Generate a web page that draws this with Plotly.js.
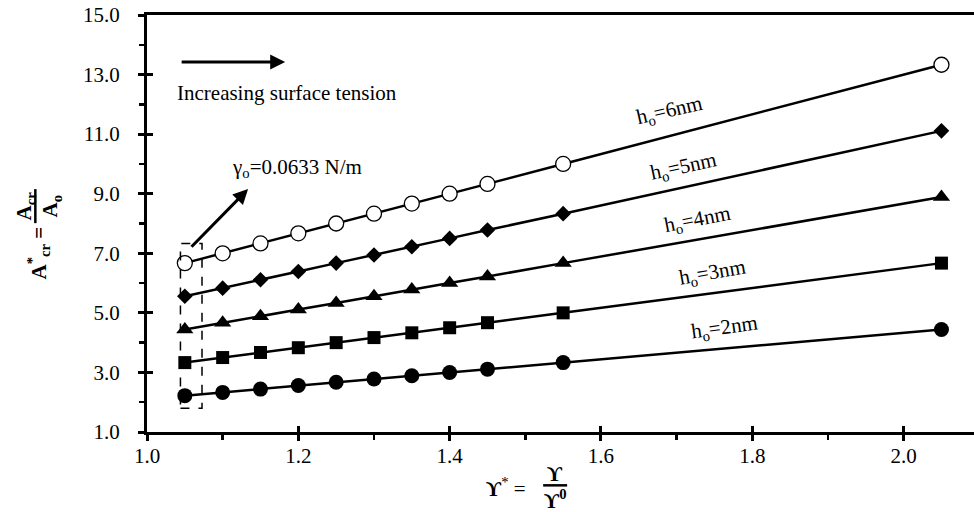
<!DOCTYPE html>
<html>
<head>
<meta charset="utf-8">
<script src="https://cdn.plot.ly/plotly-3.0.1.min.js"></script>
<style>html,body{margin:0;padding:0;background:#fff;}#chart{width:974px;height:512px;}</style>
</head>
<body>
<div id="chart"></div>
<script>
// Data
const gammaStar = [1.05, 1.10, 1.15, 1.20, 1.25, 1.30, 1.35, 1.40, 1.45, 1.55, 2.05];
const h6nm = [6.67, 7.00, 7.33, 7.67, 8.00, 8.33, 8.67, 9.00, 9.33, 10.00, 13.33];
const h5nm = [5.56, 5.83, 6.11, 6.39, 6.67, 6.94, 7.22, 7.50, 7.78, 8.33, 11.11];
const h4nm = [4.44, 4.67, 4.89, 5.11, 5.33, 5.56, 5.78, 6.00, 6.22, 6.67, 8.89];
const h3nm = [3.33, 3.50, 3.67, 3.83, 4.00, 4.17, 4.33, 4.50, 4.67, 5.00, 6.67];
const h2nm = [2.22, 2.33, 2.44, 2.56, 2.67, 2.78, 2.89, 3.00, 3.11, 3.33, 4.44];
const seriesNames = ["h<sub>o</sub>=6nm", "h<sub>o</sub>=5nm", "h<sub>o</sub>=4nm", "h<sub>o</sub>=3nm", "h<sub>o</sub>=2nm"];
const xTickVals = [1.0, 1.2, 1.4, 1.6, 1.8, 2.0];
const yTickVals = [1, 3, 5, 7, 9, 11, 13, 15];

const FONT = "'Liberation Serif', 'Times New Roman', 'DejaVu Serif', serif";
const lineStyle = {color: "#000", width: 2.5};

function tr(y, name, marker) {
  return {x: gammaStar, y: y, name: name, type: "scatter", mode: "lines+markers",
    line: lineStyle, marker: marker, showlegend: false, cliponaxis: false, hoverinfo: "skip"};
}
const traces = [
  tr(h6nm, seriesNames[0], {symbol: "circle", size: 15, color: "#fff", line: {color: "#000", width: 1.3}}),
  tr(h5nm, seriesNames[1], {symbol: "diamond", size: 12, color: "#000", line: {width: 0}}),
  tr(h4nm, seriesNames[2], {symbol: "triangle-up", size: 15, color: "#000", line: {width: 0}}),
  tr(h3nm, seriesNames[3], {symbol: "square", size: 13, color: "#000", line: {width: 0}}),
  tr(h2nm, seriesNames[4], {symbol: "circle", size: 15, color: "#000", line: {width: 0}}),
  // empty trace so the overlay (inner tick) axes are drawn
  {x: [null], y: [null], xaxis: "x2", yaxis: "y2", type: "scatter", mode: "markers", showlegend: false, hoverinfo: "skip"}
];

const labelX = [1.690, 1.709, 1.727, 1.747, 1.763];
const labelY = [11.78, 9.89, 8.11, 6.33, 4.49];
const labelAngle = [-13, -12, -11, -10, -8];

const annotations = [];
for (let i = 0; i < seriesNames.length; i++) {
  annotations.push({x: labelX[i], y: labelY[i], xref: "x", yref: "y", text: seriesNames[i],
    showarrow: false, textangle: labelAngle[i], font: {family: FONT, size: 21, color: "#000"},
    xanchor: "center", yanchor: "middle"});
}
annotations.push({x: 1.1826, y: 13.42, ax: 1.0438, ay: 13.42, xref: "x", yref: "y", axref: "x", ayref: "y",
  text: "", showarrow: true, arrowhead: 2, arrowsize: 1, arrowwidth: 3, arrowcolor: "#000"});
annotations.push({x: 1.037, y: 12.38, xref: "x", yref: "y", text: "Increasing surface tension",
  showarrow: false, xanchor: "left", yanchor: "middle", font: {family: FONT, size: 21, color: "#000"}});
annotations.push({x: 1.1336, y: 9.155, ax: 1.0569, ay: 7.17, xref: "x", yref: "y", axref: "x", ayref: "y",
  text: "", showarrow: true, arrowhead: 2, arrowsize: 1, arrowwidth: 3, arrowcolor: "#000"});
annotations.push({x: 1.1097, y: 9.86, xref: "x", yref: "y", text: "γ<sub>o</sub>=0.0633 N/m",
  showarrow: false, xanchor: "left", yanchor: "middle", font: {family: FONT, size: 21, color: "#000"}});

const PW = 827.3, PH = 416.7, PL = 146.7, PB = 431.7;
function px(xp) { return (xp - PL) / PW; }
function py(yp) { return (PB - yp) / PH; }
const tf = {family: FONT, size: 21, color: "#000"};
annotations.push({xref: "paper", yref: "paper", x: px(38), y: py(253), text: "<b>A<sup>*</sup><sub>cr</sub> =</b>",
  textangle: -90, showarrow: false, xanchor: "center", yanchor: "middle", font: tf});
annotations.push({xref: "paper", yref: "paper", x: px(25), y: py(206), text: "<b>A<sub>cr</sub></b>",
  textangle: -90, showarrow: false, xanchor: "center", yanchor: "middle", font: tf});
annotations.push({xref: "paper", yref: "paper", x: px(51), y: py(206), text: "<b>A<sub>o</sub></b>",
  textangle: -90, showarrow: false, xanchor: "center", yanchor: "middle", font: tf});
annotations.push({xref: "paper", yref: "paper", x: px(506), y: py(487), text: "<b>ϒ</b><sup>*</sup> =",
  showarrow: false, xanchor: "center", yanchor: "middle", font: tf});
annotations.push({xref: "paper", yref: "paper", x: px(555), y: py(474), text: "<b>ϒ</b>",
  showarrow: false, xanchor: "center", yanchor: "middle", font: tf});
annotations.push({xref: "paper", yref: "paper", x: px(555), y: py(499), text: "<b>ϒ<sup>0</sup></b>",
  showarrow: false, xanchor: "center", yanchor: "middle", font: tf});

const shapes = [
  {type: "rect", xref: "x", yref: "y", x0: 1.0442, x1: 1.0727, y0: 1.80, y1: 7.33,
    line: {color: "#000", width: 1.5, dash: "dash"}},
  {type: "line", xref: "paper", yref: "paper", x0: px(35), x1: px(35), y0: py(189), y1: py(223),
    line: {color: "#000", width: 2.5}},
  {type: "line", xref: "paper", yref: "paper", x0: px(543), x1: px(567), y0: py(485), y1: py(485),
    line: {color: "#000", width: 2.5}}
];

const xr = [1.0, 2.093], yr = [1, 15];
const layout = {
  width: 974, height: 512,
  margin: {l: 147, r: 0, t: 15, b: 80, pad: 0},
  paper_bgcolor: "#fff", plot_bgcolor: "#fff",
  font: {family: FONT, size: 21, color: "#000"},
  showlegend: false,
  xaxis: {range: xr, tickvals: xTickVals, ticktext: xTickVals.map(v => v.toFixed(1)),
    showgrid: false, zeroline: false, showline: true, linecolor: "#000", linewidth: 3, mirror: true,
    ticks: "outside", ticklen: 6, tickwidth: 3, tickcolor: "#000", ticklabelstandoff: -3,
    minor: {dtick: 0.1, tick0: 1.0, ticks: "outside", ticklen: 5, tickwidth: 2.5, tickcolor: "#000", showgrid: false},
    tickfont: {family: FONT, size: 21, color: "#000"}, fixedrange: true},
  yaxis: {range: yr, tickvals: yTickVals, ticktext: yTickVals.map(v => v.toFixed(1)),
    showgrid: false, zeroline: false, showline: true, linecolor: "#000", linewidth: 3,
    ticks: "outside", ticklen: 6, tickwidth: 3, tickcolor: "#000", ticklabelstandoff: 14,
    minor: {dtick: 1, tick0: 1, ticks: "outside", ticklen: 5, tickwidth: 2.5, tickcolor: "#000", showgrid: false},
    tickfont: {family: FONT, size: 21, color: "#000"}, fixedrange: true},
  xaxis2: {range: xr, overlaying: "x", anchor: "y", side: "bottom", tickvals: xTickVals,
    showticklabels: false, showgrid: false, zeroline: false, showline: false,
    ticks: "inside", ticklen: 6, tickwidth: 3, tickcolor: "#000", fixedrange: true},
  yaxis2: {range: yr, overlaying: "y", anchor: "x", side: "left", tickvals: yTickVals,
    showticklabels: false, showgrid: false, zeroline: false, showline: false,
    ticks: "inside", ticklen: 6, tickwidth: 3, tickcolor: "#000", fixedrange: true},
  annotations: annotations,
  shapes: shapes
};

Plotly.newPlot("chart", traces, layout, {displayModeBar: false, staticPlot: true});
</script>
</body>
</html>
